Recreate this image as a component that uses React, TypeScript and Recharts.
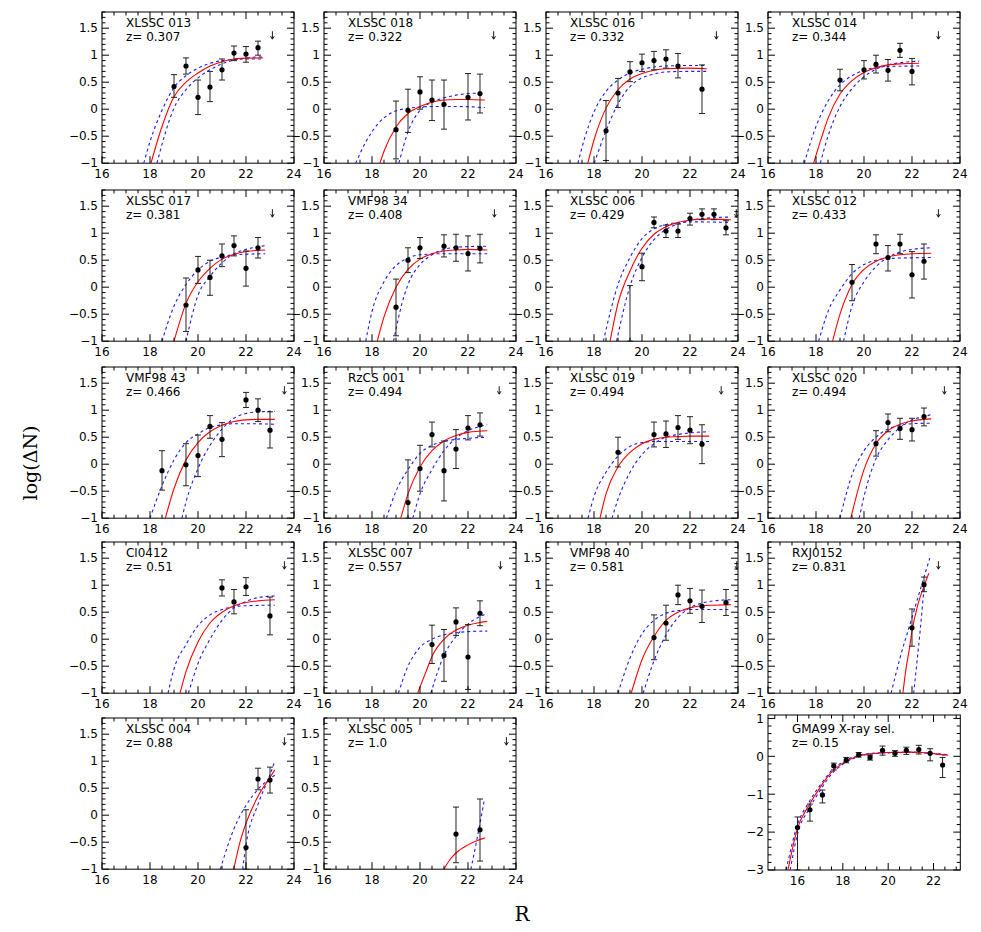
import React from 'react';
import { ComposedChart, Line, Scatter, XAxis, YAxis, ErrorBar } from 'recharts';

type Row = number[];

// points: [R, log(ΔN), errorTop, errorBottom]; curves: [R, log(ΔN)]
const p013: Row[] = [[19, 0.42, 0.64, 0.22], [19.5, 0.8, 0.95, 0.65], [20, 0.22, 0.54, -0.1], [20.5, 0.41, 0.7, 0.14], [21, 0.73, 0.93, 0.54], [21.5, 1.04, 1.17, 0.9], [22, 1.02, 1.16, 0.87], [22.5, 1.14, 1.26, 1.0]];
const f013: Row[] = [[18.04, -1], [18.5, -0.32], [19, 0.23], [19.5, 0.5], [20, 0.67], [20.5, 0.8], [21, 0.88], [21.5, 0.93], [22, 0.945], [22.7, 0.95]];
const a013: Row[] = [[17.74, -1], [18, -0.6], [18.5, -0.02], [19, 0.4], [19.5, 0.62], [20, 0.76], [20.5, 0.85], [21, 0.9], [21.5, 0.92], [22, 0.93], [22.7, 0.93]];
const b013: Row[] = [[18.29, -1], [18.5, -0.65], [19, 0.02], [19.5, 0.36], [20, 0.58], [20.5, 0.73], [21, 0.84], [21.5, 0.91], [22, 0.95], [22.7, 0.97]];

const p018: Row[] = [[19, -0.38, 0.15, -0.92], [19.5, -0.02, 0.37, -0.43], [20, 0.32, 0.6, 0.0], [20.5, 0.17, 0.54, -0.21], [21, 0.09, 0.54, -0.37], [22, 0.22, 0.66, -0.2], [22.5, 0.29, 0.65, -0.07]];
const f018: Row[] = [[18.33, -1], [18.5, -0.78], [19, -0.33], [19.5, -0.08], [20, 0.05], [20.5, 0.13], [21, 0.17], [21.5, 0.18], [22, 0.18], [22.7, 0.17]];
const a018: Row[] = [[17.32, -1], [17.75, -0.6], [18.25, -0.27], [18.75, -0.08], [19.25, 0.0], [19.75, 0.03], [20.5, 0.05], [21.5, 0.05], [22.7, 0.03]];
const b018: Row[] = [[19.12, -1], [19.5, -0.42], [20, -0.02], [20.5, 0.13], [21, 0.21], [21.5, 0.26], [22, 0.29], [22.7, 0.3]];

const p016: Row[] = [[18.5, -0.4, 0.16, -0.95], [19, 0.3, 0.57, 0.03], [19.5, 0.69, 0.88, 0.51], [20, 0.86, 1.02, 0.7], [20.5, 0.9, 1.07, 0.73], [21, 0.93, 1.1, 0.76], [21.5, 0.8, 1.03, 0.58], [22.5, 0.37, 0.82, -0.08]];
const f016: Row[] = [[17.74, -1], [18, -0.57], [18.5, 0.02], [19, 0.36], [19.5, 0.56], [20, 0.66], [20.5, 0.72], [21, 0.75], [22, 0.76], [22.7, 0.75]];
const a016: Row[] = [[17.33, -1], [17.6, -0.55], [18, -0.05], [18.5, 0.33], [19, 0.54], [19.5, 0.67], [20, 0.74], [20.5, 0.78], [21, 0.8], [22, 0.81], [22.7, 0.81]];
const b016: Row[] = [[18.01, -1], [18.5, -0.4], [19, 0.1], [19.5, 0.42], [20, 0.58], [20.5, 0.65], [21, 0.69], [22, 0.7], [22.7, 0.7]];

const p014: Row[] = [[19, 0.54, 0.74, 0.34], [20, 0.73, 0.9, 0.56], [20.5, 0.83, 1.0, 0.67], [21, 0.72, 0.92, 0.52], [21.5, 1.09, 1.22, 0.96], [22, 0.7, 0.94, 0.45]];
const f014: Row[] = [[17.9, -1], [18.25, -0.5], [18.5, -0.17], [19, 0.28], [19.5, 0.53], [20, 0.68], [20.5, 0.77], [21, 0.82], [21.5, 0.84], [22.3, 0.85]];
const a014: Row[] = [[17.51, -1], [18, -0.32], [18.5, 0.15], [19, 0.45], [19.5, 0.62], [20, 0.72], [20.5, 0.77], [21, 0.79], [22.3, 0.8]];
const b014: Row[] = [[18.18, -1], [18.5, -0.5], [19, 0.05], [19.5, 0.38], [20, 0.6], [20.5, 0.74], [21, 0.82], [21.5, 0.86], [22.3, 0.89]];

const p017: Row[] = [[19.5, -0.33, 0.17, -0.82], [20, 0.32, 0.57, 0.07], [20.5, 0.18, 0.5, -0.15], [21, 0.58, 0.8, 0.38], [21.5, 0.77, 0.95, 0.58], [22, 0.35, 0.67, 0.02], [22.5, 0.73, 0.92, 0.54]];
const f017: Row[] = [[19.0, -1], [19.5, -0.3], [20, 0.1], [20.5, 0.35], [21, 0.52], [21.5, 0.61], [22, 0.66], [22.8, 0.69]];
const a017: Row[] = [[18.5, -1], [19, -0.35], [19.5, 0.05], [20, 0.32], [20.5, 0.48], [21, 0.56], [21.5, 0.6], [22.8, 0.62]];
const b017: Row[] = [[19.5, -1], [20, -0.15], [20.5, 0.2], [21, 0.45], [21.5, 0.62], [22, 0.7], [22.8, 0.77]];

const p034: Row[] = [[19, -0.37, 0.15, -0.9], [19.5, 0.5, 0.73, 0.27], [20, 0.73, 0.92, 0.53], [21, 0.76, 0.97, 0.56], [21.5, 0.73, 0.98, 0.48], [22, 0.62, 0.95, 0.3], [22.5, 0.72, 0.98, 0.45]];
const f034: Row[] = [[18.22, -1], [18.5, -0.55], [19, 0.0], [19.5, 0.33], [20, 0.52], [20.5, 0.62], [21, 0.67], [21.5, 0.69], [22, 0.7], [22.8, 0.69]];
const a034: Row[] = [[17.74, -1], [18, -0.45], [18.5, 0.1], [19, 0.4], [19.5, 0.54], [20, 0.6], [21, 0.62], [22.8, 0.62]];
const b034: Row[] = [[18.9, -1], [19.25, -0.3], [19.5, 0.05], [20, 0.42], [20.5, 0.6], [21, 0.7], [21.5, 0.74], [22.8, 0.76]];

const p006: Row[] = [[19.5, -1.3, 0.03, -1.0], [20, 0.38, 0.63, 0.12], [20.5, 1.2, 1.3, 1.1], [21, 1.04, 1.15, 0.92], [21.5, 1.04, 1.17, 0.92], [22, 1.27, 1.37, 1.15], [22.5, 1.35, 1.45, 1.25], [23, 1.35, 1.45, 1.25], [23.5, 1.1, 1.23, 0.97]];
const f006: Row[] = [[18.67, -1], [19, -0.3], [19.5, 0.3], [20, 0.72], [20.5, 0.98], [21, 1.12], [21.5, 1.2], [22, 1.24], [22.5, 1.26], [23, 1.26], [23.7, 1.25]];
const a006: Row[] = [[18.39, -1], [19, 0.05], [19.5, 0.55], [20, 0.9], [20.5, 1.08], [21, 1.16], [22, 1.21], [23.7, 1.2]];
const b006: Row[] = [[18.94, -1], [19.5, 0.02], [20, 0.55], [20.5, 0.88], [21, 1.07], [21.5, 1.17], [22, 1.23], [22.5, 1.27], [23.7, 1.3]];

const p012: Row[] = [[19.5, 0.09, 0.42, -0.25], [20.5, 0.8, 0.97, 0.62], [21, 0.55, 0.77, 0.3], [21.5, 0.8, 0.98, 0.62], [22, 0.23, 0.66, -0.2], [22.5, 0.48, 0.8, 0.15]];
const f012: Row[] = [[18.69, -1], [19, -0.5], [19.5, 0.05], [20, 0.33], [20.5, 0.48], [21, 0.56], [21.5, 0.6], [22, 0.62], [22.8, 0.63]];
const a012: Row[] = [[18.11, -1], [18.5, -0.45], [19, -0.05], [19.5, 0.25], [20, 0.42], [20.5, 0.5], [21, 0.53], [22.8, 0.55]];
const b012: Row[] = [[19.15, -1], [19.5, -0.35], [20, 0.1], [20.5, 0.38], [21, 0.55], [21.5, 0.65], [22, 0.7], [22.8, 0.73]];

const p043: Row[] = [[18.5, -0.12, 0.25, -0.48], [19.5, -0.01, 0.38, -0.4], [20, 0.16, 0.54, -0.23], [20.5, 0.7, 0.9, 0.48], [21, 0.46, 0.77, 0.14], [22, 1.19, 1.33, 1.05], [22.5, 1.0, 1.21, 0.79], [23, 0.63, 0.97, 0.3]];
const f043: Row[] = [[18.64, -1], [19, -0.45], [19.5, 0.08], [20, 0.4], [20.5, 0.6], [21, 0.72], [21.5, 0.79], [22, 0.82], [22.5, 0.83], [23.2, 0.83]];
const a043: Row[] = [[18.0, -1], [18.5, -0.4], [19, 0.08], [19.5, 0.4], [20, 0.56], [20.5, 0.68], [21, 0.73], [21.5, 0.75], [22, 0.75], [23.2, 0.74]];
const b043: Row[] = [[19.33, -1], [19.5, -0.7], [20, -0.08], [20.5, 0.35], [21, 0.65], [21.5, 0.85], [22, 0.94], [22.5, 0.97], [23.2, 0.98]];

const p001: Row[] = [[19.5, -0.71, 0.08, -1.0], [20, -0.08, 0.35, -0.5], [20.5, 0.55, 0.78, 0.32], [21, -0.12, 0.43, -0.68], [21.5, 0.28, 0.64, -0.08], [22, 0.67, 0.9, 0.45], [22.5, 0.73, 0.95, 0.52]];
const f001: Row[] = [[19.2, -1], [19.5, -0.55], [20, -0.05], [20.5, 0.25], [21, 0.43], [21.5, 0.53], [22, 0.59], [22.8, 0.62]];
const a001: Row[] = [[18.6, -1], [19, -0.5], [19.5, -0.1], [20, 0.2], [20.5, 0.35], [21, 0.42], [21.5, 0.46], [22, 0.48], [22.8, 0.5]];
const b001: Row[] = [[19.7, -1], [20, -0.55], [20.5, -0.1], [21, 0.25], [21.5, 0.48], [22, 0.62], [22.8, 0.73]];

const p019: Row[] = [[19, 0.22, 0.5, -0.05], [20.5, 0.55, 0.78, 0.32], [21, 0.56, 0.8, 0.31], [21.5, 0.68, 0.9, 0.46], [22, 0.63, 0.88, 0.38], [22.5, 0.37, 0.73, 0.01]];
const f019: Row[] = [[18.25, -1], [18.5, -0.55], [19, -0.05], [19.5, 0.22], [20, 0.38], [20.5, 0.46], [21, 0.5], [21.5, 0.51], [22, 0.52], [22.8, 0.52]];
const a019: Row[] = [[17.75, -1], [18, -0.6], [18.5, -0.15], [19, 0.15], [19.5, 0.33], [20, 0.4], [20.5, 0.42], [21, 0.42], [22.8, 0.42]];
const b019: Row[] = [[18.75, -1], [19, -0.65], [19.5, -0.15], [20, 0.18], [20.5, 0.38], [21, 0.5], [21.5, 0.55], [22, 0.58], [22.8, 0.6]];

const p020: Row[] = [[20.5, 0.38, 0.62, 0.15], [21, 0.77, 0.93, 0.6], [21.5, 0.66, 0.85, 0.46], [22, 0.64, 0.85, 0.43], [22.5, 0.88, 1.04, 0.71]];
const f020: Row[] = [[19.45, -1], [20, -0.1], [20.5, 0.38], [21, 0.62], [21.5, 0.74], [22, 0.8], [22.5, 0.83], [22.8, 0.84]];
const a020: Row[] = [[19.0, -1], [19.5, -0.2], [20, 0.25], [20.5, 0.5], [21, 0.65], [21.5, 0.72], [22, 0.75], [22.8, 0.76]];
const b020: Row[] = [[19.8, -1], [20, -0.6], [20.5, 0.1], [21, 0.45], [21.5, 0.68], [22, 0.82], [22.5, 0.88], [22.8, 0.92]];

const p0412: Row[] = [[21, 0.95, 1.1, 0.8], [21.5, 0.69, 0.92, 0.47], [22, 0.97, 1.14, 0.81], [23, 0.43, 0.78, 0.08]];
const f0412: Row[] = [[19.25, -1], [19.5, -0.6], [20, -0.05], [20.5, 0.3], [21, 0.5], [21.5, 0.62], [22, 0.68], [22.5, 0.71], [23.2, 0.73]];
const a0412: Row[] = [[18.75, -1], [19, -0.55], [19.5, -0.1], [20, 0.25], [20.5, 0.45], [21, 0.55], [21.5, 0.6], [22, 0.62], [23.2, 0.63]];
const b0412: Row[] = [[19.6, -1], [20, -0.45], [20.5, 0.0], [21, 0.35], [21.5, 0.58], [22, 0.7], [22.5, 0.77], [23.2, 0.8]];

const p007: Row[] = [[20.5, -0.1, 0.26, -0.45], [21, -0.3, 0.18, -0.78], [21.5, 0.32, 0.58, 0.07], [22, -0.33, 0.27, -0.93], [22.5, 0.48, 0.71, 0.25]];
const f007: Row[] = [[19.9, -1], [20.25, -0.6], [20.5, -0.32], [21, 0.0], [21.5, 0.17], [22, 0.26], [22.5, 0.31], [22.8, 0.33]];
const a007: Row[] = [[19.1, -1], [19.5, -0.5], [20, -0.15], [20.5, 0.0], [21, 0.08], [21.5, 0.12], [22, 0.14], [22.8, 0.15]];
const b007: Row[] = [[20.45, -1], [21, -0.3], [21.5, 0.05], [22, 0.28], [22.5, 0.42], [22.8, 0.48]];

const p040: Row[] = [[20.5, 0.03, 0.45, -0.38], [21, 0.3, 0.63, -0.02], [21.5, 0.82, 1.0, 0.64], [22, 0.71, 0.94, 0.48], [22.5, 0.61, 0.91, 0.31], [23.5, 0.68, 0.92, 0.44]];
const f040: Row[] = [[19.55, -1], [20, -0.38], [20.5, 0.05], [21, 0.35], [21.5, 0.5], [22, 0.58], [22.5, 0.62], [23, 0.63], [23.7, 0.64]];
const a040: Row[] = [[19.0, -1], [19.5, -0.35], [20, 0.1], [20.5, 0.35], [21, 0.48], [21.5, 0.53], [22, 0.55], [23.7, 0.55]];
const b040: Row[] = [[20.05, -1], [20.5, -0.4], [21, 0.08], [21.5, 0.4], [22, 0.58], [22.5, 0.67], [23, 0.71], [23.7, 0.73]];

const p0152: Row[] = [[22, 0.21, 0.56, -0.13], [22.5, 1.01, 1.15, 0.88]];
const f0152: Row[] = [[21.62, -1], [21.75, -0.55], [21.9, -0.15], [22, 0.15], [22.25, 0.65], [22.5, 0.98], [22.7, 1.22]];
const a0152: Row[] = [[21.13, -1], [21.5, -0.35], [22, 0.4], [22.5, 1.15], [22.74, 1.5]];
const b0152: Row[] = [[22.07, -1], [22.2, -0.45], [22.35, 0.2], [22.5, 0.9], [22.55, 1.05]];

const p004: Row[] = [[22, -0.6, 0.1, -1.0], [22.5, 0.67, 0.87, 0.47], [23, 0.65, 0.89, 0.41]];
const f004: Row[] = [[21.49, -1], [21.75, -0.5], [22, -0.15], [22.5, 0.35], [23, 0.7], [23.2, 0.84]];
const a004: Row[] = [[20.93, -1], [21.25, -0.55], [21.5, -0.25], [22, 0.18], [22.5, 0.48], [23, 0.68], [23.2, 0.74]];
const b004: Row[] = [[21.86, -1], [22, -0.55], [22.5, 0.2], [23, 0.75], [23.2, 1.0]];

const p005: Row[] = [[21.5, -0.35, 0.15, -0.88], [22.5, -0.27, 0.3, -0.85]];
const f005: Row[] = [[21.0, -1], [21.25, -0.82], [21.5, -0.7], [22, -0.55], [22.5, -0.45], [22.7, -0.42]];
const a005: Row[] = [];
const b005: Row[] = [[22.12, -1], [22.35, -0.5], [22.5, -0.15], [22.68, 0.28]];

const pGMA: Row[] = [[16.0, -1.88, -1.6, -3.0], [16.55, -1.41, -1.26, -1.71], [17.1, -1.02, -0.89, -1.23], [17.6, -0.25, -0.18, -0.36], [18.15, -0.1, -0.03, -0.17], [18.7, 0.04, 0.1, -0.02], [19.2, -0.03, 0.03, -0.1], [19.75, 0.16, 0.27, 0.03], [20.3, 0.08, 0.15, 0.0], [20.8, 0.16, 0.24, 0.05], [21.35, 0.18, 0.29, 0.06], [21.85, 0.08, 0.2, -0.12], [22.4, -0.23, -0.03, -0.56]];
const fGMA: Row[] = [[15.58, -3], [16, -1.9], [16.5, -1.3], [17, -0.82], [17.5, -0.42], [18, -0.18], [18.5, -0.03], [19, 0.05], [19.5, 0.08], [20, 0.1], [21, 0.11], [21.5, 0.1], [22, 0.07], [22.63, 0.03]];
const aGMA: Row[] = [[15.5, -3], [16, -1.8], [16.5, -1.22], [17, -0.76], [17.5, -0.38], [18, -0.15], [18.5, -0.01], [19, 0.06], [20, 0.1], [21, 0.11], [22.63, 0.04]];
const bGMA: Row[] = [[15.68, -3], [16, -2.05], [16.5, -1.4], [17, -0.9], [17.5, -0.47], [18, -0.21], [18.5, -0.05], [19, 0.04], [20, 0.09], [21, 0.1], [22.63, 0.02]];

const names = ['XLSSC 013', 'XLSSC 018', 'XLSSC 016', 'XLSSC 014', 'XLSSC 017', 'VMF98 34', 'XLSSC 006', 'XLSSC 012', 'VMF98 43', 'RzCS 001', 'XLSSC 019', 'XLSSC 020', 'Cl0412', 'XLSSC 007', 'VMF98 40', 'RXJ0152', 'XLSSC 004', 'XLSSC 005', 'GMA99 X-ray sel.'];
const redshifts = ['0.307', '0.322', '0.332', '0.344', '0.381', '0.408', '0.429', '0.433', '0.466', '0.494', '0.494', '0.494', '0.51', '0.557', '0.581', '0.831', '0.88', '1.0', '0.15'];
const arrowR = [23.1, 23.07, 23.1, 23.1, 23.1, 23.1, 23.93, 23.1, 23.6, 23.3, 23.3, 23.35, 23.6, 23.35, 23.95, 23.1, 23.6, 23.6, null];
const pointSets = [p013, p018, p016, p014, p017, p034, p006, p012, p043, p001, p019, p020, p0412, p007, p040, p0152, p004, p005, pGMA];
const fitSets = [f013, f018, f016, f014, f017, f034, f006, f012, f043, f001, f019, f020, f0412, f007, f040, f0152, f004, f005, fGMA];
const blueASets = [a013, a018, a016, a014, a017, a034, a006, a012, a043, a001, a019, a020, a0412, a007, a040, a0152, a004, a005, aGMA];
const blueBSets = [b013, b018, b016, b014, b017, b034, b006, b012, b043, b001, b019, b020, b0412, b007, b040, b0152, b004, b005, bGMA];

const FONT = "'DejaVu Sans', sans-serif";
const COL_LEFT = [101.7, 323.7, 545.7, 767.7];
const ROW_BOTTOM = [163.3, 340.7, 517.7, 693.5, 869.3];

const toPts = (rows: Row[]) => rows.map(([x, y, t, b]) => ({ x, y, e: [y - b, t - y] }));
const toXY = (rows: Row[]) => rows.map(([x, y]) => ({ x, y }));

const fmt = (v: number) => {
  const r = Math.round(v * 10) / 10;
  return r < 0 ? '\u2212' + String(Math.abs(r)) : String(r);
};

type PanelProps = {
  idx: number;
  left: number;
  bottom: number;
  w: number;
  h: number;
  xDomain: [number, number];
  yDomain: [number, number];
  yStep: number;
  yMajorEvery: number;
  xLabelMin: number;
  xLabelMax: number;
  textTop: number;
};

function Panel(p: PanelProps) {
  const YW = 45, XH = 24, MR = 10, MT = 6;
  const width = p.w + YW + MR;
  const height = p.h + MT + XH;
  const xTicks: number[] = [];
  for (let i = Math.ceil(p.xDomain[0] * 2); i <= Math.floor(p.xDomain[1] * 2 + 1e-9); i++) xTicks.push(i / 2);
  const yTicks: number[] = [];
  for (let i = Math.ceil(p.yDomain[0] * 10 - 1e-9); i <= Math.floor(p.yDomain[1] * 10 + 1e-9); i += p.yStep) yTicks.push(i / 10);

  const xTick = (props: any) => {
    const { x, y, payload } = props;
    const v = payload.value;
    const major = Math.abs(v / 2 - Math.round(v / 2)) < 1e-6;
    const len = major ? 7 : 3.5;
    const label = major && v >= p.xLabelMin - 1e-6 && v <= p.xLabelMax + 1e-6;
    return (
      <g>
        <line x1={x} y1={y} x2={x} y2={y - len} stroke="#000" strokeWidth={1} />
        <line x1={x} y1={y - p.h} x2={x} y2={y - p.h + len} stroke="#000" strokeWidth={1} />
        {label ? (
          <text x={x} y={y + 15} textAnchor="middle" fontFamily={FONT} fontSize={12} fill="#000">
            {String(v)}
          </text>
        ) : null}
      </g>
    );
  };

  const yTick = (props: any) => {
    const { x, y, payload } = props;
    const v = payload.value;
    const tenth = Math.round(v * 10);
    const major = tenth % p.yMajorEvery === 0;
    const len = major ? 7 : 3.5;
    return (
      <g>
        <line x1={x} y1={y} x2={x + len} y2={y} stroke="#000" strokeWidth={1} />
        <line x1={x + p.w} y1={y} x2={x + p.w - len} y2={y} stroke="#000" strokeWidth={1} />
        {major ? (
          <text x={x - 4} y={y + 4.3} textAnchor="end" fontFamily={FONT} fontSize={12} fill="#000">
            {fmt(v)}
          </text>
        ) : null}
      </g>
    );
  };

  const arrow = arrowR[p.idx];
  const arrowData = arrow == null ? [] : [{ x: arrow, y: 1.37 }];
  const arrowShape = (s: any) => (
    <g>
      <line x1={s.cx} y1={s.cy - 4} x2={s.cx} y2={s.cy + 3.5} stroke="#000" strokeWidth={0.9} />
      <path d={`M${s.cx - 1.8},${s.cy + 1} L${s.cx},${s.cy + 4} L${s.cx + 1.8},${s.cy + 1}`} fill="none" stroke="#000" strokeWidth={0.9} />
    </g>
  );
  const dotShape = (s: any) => <circle cx={s.cx} cy={s.cy} r={2.6} fill="#000" />;

  return (
    <div style={{ position: 'absolute', left: p.left - YW, top: p.bottom - p.h - MT, width, height }}>
      <ComposedChart width={width} height={height} margin={{ top: MT, right: MR, bottom: 0, left: 0 }}>
        <XAxis type="number" dataKey="x" domain={p.xDomain} ticks={xTicks} interval={0} allowDataOverflow height={XH} tickSize={0} tickMargin={0} axisLine={false} tickLine={false} tick={xTick} />
        <YAxis type="number" dataKey="y" domain={p.yDomain} ticks={yTicks} interval={0} allowDataOverflow width={YW} tickSize={0} tickMargin={0} axisLine={false} tickLine={false} tick={yTick} />
        <rect x={YW} y={MT} width={p.w} height={p.h} fill="none" stroke="#000" strokeWidth={1} />
        <text x={YW + 24} y={MT + p.textTop} fontFamily={FONT} fontSize={12} fill="#000">{names[p.idx]}</text>
        <text x={YW + 24} y={MT + p.textTop + 14} fontFamily={FONT} fontSize={12} fill="#000">{'z= ' + redshifts[p.idx]}</text>
        <Line data={toXY(blueASets[p.idx])} dataKey="y" type="monotone" stroke="#1a1aff" strokeWidth={1.1} strokeDasharray="3 3" dot={false} activeDot={false} isAnimationActive={false} />
        <Line data={toXY(blueBSets[p.idx])} dataKey="y" type="monotone" stroke="#1a1aff" strokeWidth={1.1} strokeDasharray="3 3" dot={false} activeDot={false} isAnimationActive={false} />
        <Line data={toXY(fitSets[p.idx])} dataKey="y" type="monotone" stroke="#ff0000" strokeWidth={1.1} dot={false} activeDot={false} isAnimationActive={false} />
        <Scatter data={toPts(pointSets[p.idx])} dataKey="y" shape={dotShape} isAnimationActive={false}>
          <ErrorBar dataKey="e" direction="y" width={3} stroke="#222" strokeWidth={1} />
        </Scatter>
        <Scatter data={arrowData} dataKey="y" shape={arrowShape} isAnimationActive={false} />
      </ComposedChart>
    </div>
  );
}

export default function App() {
  const panels = [];
  for (let i = 0; i < 18; i++) {
    const col = i % 4;
    const row = Math.floor(i / 4);
    panels.push(
      <Panel key={i} idx={i} left={COL_LEFT[col]} bottom={ROW_BOTTOM[row]} w={192} h={151.2} xDomain={[16, 24]} yDomain={[-1, 1.8]} yStep={1} yMajorEvery={5} xLabelMin={16} xLabelMax={24} textTop={15} />
    );
  }
  panels.push(
    <Panel key={18} idx={18} left={767.7} bottom={870} w={192.3} h={155} xDomain={[14.7, 23.18]} yDomain={[-3, 1.09]} yStep={2} yMajorEvery={10} xLabelMin={16} xLabelMax={22} textTop={18} />
  );
  return (
    <div style={{ position: 'absolute', left: 0, top: 0, width: 981, height: 932, background: '#fff' }}>
      {panels}
      <div style={{ position: 'absolute', left: 30, top: 463, transform: 'translate(-50%, -50%) rotate(-90deg)', fontFamily: "'DejaVu Serif', serif", fontSize: 19, whiteSpace: 'nowrap', color: '#000' }}>
        log(ΔN)
      </div>
      <div style={{ position: 'absolute', left: 522, top: 914, transform: 'translate(-50%, -50%)', fontFamily: "'DejaVu Serif', serif", fontSize: 20, color: '#000' }}>
        R
      </div>
    </div>
  );
}
